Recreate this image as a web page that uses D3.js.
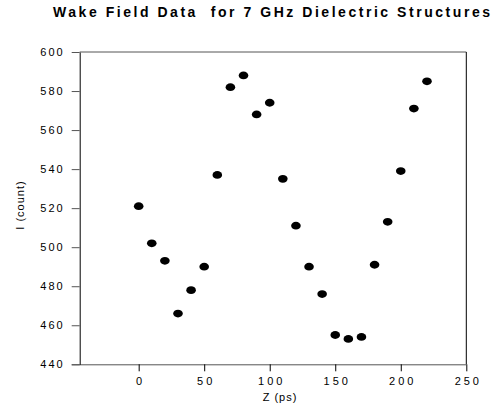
<!DOCTYPE html>
<html>
<head>
<meta charset="utf-8">
<script src="https://cdn.jsdelivr.net/npm/d3@7/dist/d3.min.js"></script>
<style>
  html, body { margin: 0; padding: 0; background: #fff; }
  svg { display: block; font-family: "Liberation Sans", Arial, sans-serif; }
</style>
</head>
<body>
<svg id="chart" width="496" height="414"></svg>
<script>
// Data
const zValues = [0, 10, 20, 30, 40, 50, 60, 70, 80, 90, 100, 110, 120, 130, 140, 150, 160, 170, 180, 190, 200, 210, 220];
const countValues = [521, 502, 493, 466, 478, 490, 537, 582, 588, 568, 574, 535, 511, 490, 476, 455, 453, 454, 491, 513, 539, 571, 585];
const xTicks = [0, 50, 100, 150, 200, 250];
const yTicks = [440, 460, 480, 500, 520, 540, 560, 580, 600];
const xDomain = [-45, 250];
const yDomain = [440, 600];
const titleText = "Wake Field Data  for 7 GHz Dielectric Structures";
const xLabel = "Z (ps)";
const yLabel = "I (count)";

(function () {
const svg = d3.select("#chart");
const pLeft = 79.7, pRight = 466.3, pTop = 52, pBottom = 364.3;

const x = d3.scaleLinear().domain(xDomain).range([pLeft, pRight]);
const y = d3.scaleLinear().domain(yDomain).range([pBottom, pTop]);

// Title
svg.append("text")
  .attr("x", 53).attr("y", 17)
  .attr("font-size", 14).attr("font-weight", "bold")
  .attr("textLength", 437).attr("lengthAdjust", "spacing")
  .style("white-space", "pre")
  .attr("fill", "#000")
  .text(titleText);

// Frame
svg.append("line").attr("x1", pLeft).attr("x2", pRight).attr("y1", pTop).attr("y2", pTop)
  .attr("stroke", "#555").attr("stroke-width", 1);
svg.append("line").attr("x1", pRight).attr("x2", pRight).attr("y1", pTop).attr("y2", pBottom)
  .attr("stroke", "#000").attr("stroke-width", 1);

// X axis
const xAxis = d3.axisBottom(x).tickValues(xTicks).tickSize(7).tickSizeOuter(0).tickPadding(6);
const gx = svg.append("g").attr("transform", `translate(0,${pBottom})`).call(xAxis);
gx.select(".domain").attr("stroke", "#555").attr("d", `M${pLeft - 8},0.5H${pRight}`);
gx.selectAll(".tick line").attr("stroke", "#000");
gx.selectAll(".tick text")
  .attr("font-size", 11).attr("font-family", "Liberation Sans, Arial, sans-serif")
  .attr("letter-spacing", "3px").attr("fill", "#000")
  .attr("dx", "1.5px");

// Y axis
const yAxis = d3.axisLeft(y).tickValues(yTicks).tickSize(8).tickSizeOuter(0).tickPadding(9);
const gy = svg.append("g").attr("transform", `translate(${pLeft},0)`).call(yAxis);
gy.select(".domain").attr("stroke", "#000");
gy.selectAll(".tick line").attr("stroke", "#555");
gy.selectAll(".tick text")
  .attr("font-size", 11).attr("font-family", "Liberation Sans, Arial, sans-serif")
  .attr("letter-spacing", "2px").attr("fill", "#000")
  .attr("dx", "2px");

// Axis labels
svg.append("text")
  .attr("x", 280).attr("y", 401)
  .attr("text-anchor", "middle")
  .attr("font-size", 11).attr("letter-spacing", "1px")
  .text(xLabel);
svg.append("text")
  .attr("transform", `translate(24,205) rotate(-90)`)
  .attr("text-anchor", "middle")
  .attr("font-size", 11).attr("letter-spacing", "1px")
  .text(yLabel);

// Points
svg.append("g").selectAll("ellipse")
  .data(zValues.map((z, i) => ({ z, c: countValues[i] })))
  .join("ellipse")
  .attr("cx", d => x(d.z))
  .attr("cy", d => y(d.c))
  .attr("rx", 4.8).attr("ry", 3.9)
  .attr("fill", "#000");
})();
</script>
</body>
</html>
